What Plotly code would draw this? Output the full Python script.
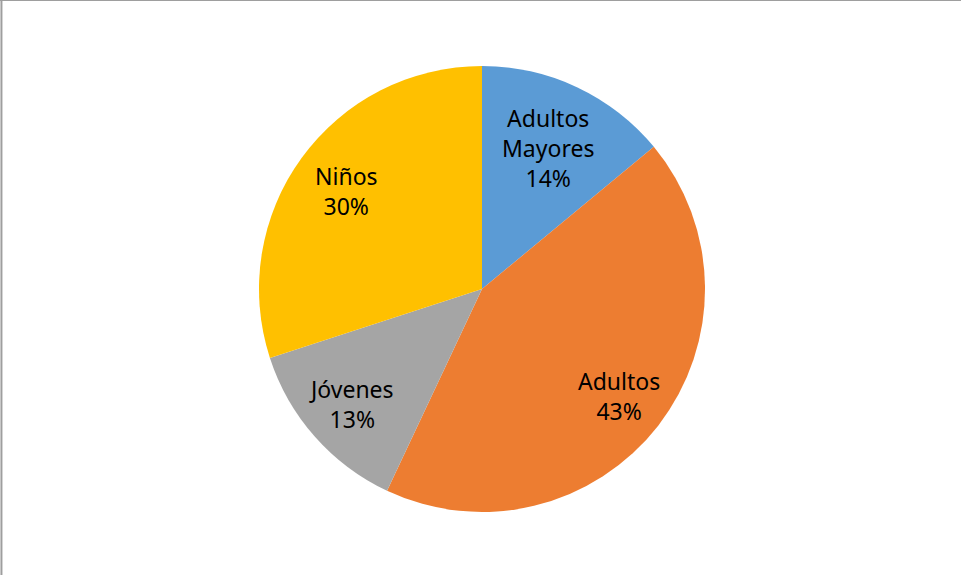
import math
import plotly.graph_objects as go

categories = ["Adultos Mayores", "Adultos", "Jóvenes", "Niños"]
label_text = ["Adultos<br>Mayores", "Adultos", "Jóvenes", "Niños"]
values = [14, 43, 13, 30]
colors = ["#5B9BD5", "#ED7D31", "#A5A5A5", "#FFC000"]

# layout settings
W, H = 961, 575
dom_x = [259 / W, 705 / W]
dom_y = [1 - 512 / H, 1 - 66 / H]
label_radius = [0.70, 0.78, 0.78, 0.75]   # fraction of pie radius for labels
FONT = "Noto Sans"

fig = go.Figure(go.Pie(
    labels=categories,
    values=values,
    sort=False,
    direction="clockwise",
    rotation=0,
    marker=dict(colors=colors, line=dict(color="white", width=0)),
    textinfo="none",
    showlegend=False,
    hoverinfo="label+percent",
    domain=dict(x=dom_x, y=dom_y),
))

# label annotations placed along each slice's mid angle
total = sum(values)
cx_px = (dom_x[0] + dom_x[1]) / 2 * W
cy_px = (1 - (dom_y[0] + dom_y[1]) / 2) * H
R_px = min((dom_x[1] - dom_x[0]) * W, (dom_y[1] - dom_y[0]) * H) / 2
annotations = []
cum = 0
for lab, v, rf in zip(label_text, values, label_radius):
    mid = (cum + v / 2) / total * 2 * math.pi
    cum += v
    px = cx_px + rf * R_px * math.sin(mid)
    py = cy_px - rf * R_px * math.cos(mid)
    pct = round(100 * v / total)
    annotations.append(dict(
        x=px / W, y=1 - py / H, xref="paper", yref="paper",
        text=f"{lab}<br>{pct}%", showarrow=False,
        xanchor="center", yanchor="middle", align="center",
        font=dict(family=FONT, size=23, color="black"),
    ))

fig.update_layout(
    width=W, height=H,
    margin=dict(l=0, r=0, t=0, b=0),
    paper_bgcolor="white",
    plot_bgcolor="white",
    annotations=annotations,
    shapes=[
        dict(type="line", xref="paper", yref="paper", x0=0, x1=1, y0=1, y1=1,
             line=dict(color="#9E9E9E", width=2)),
        dict(type="line", xref="paper", yref="paper", x0=0.0015, x1=0.0015, y0=0, y1=1,
             line=dict(color="#9E9E9E", width=2)),
    ],
)

fig.write_html(
    "out.html",
    config={"displayModeBar": False},
    post_script="document.body.style.margin='0';document.body.style.overflow='hidden';",
)
